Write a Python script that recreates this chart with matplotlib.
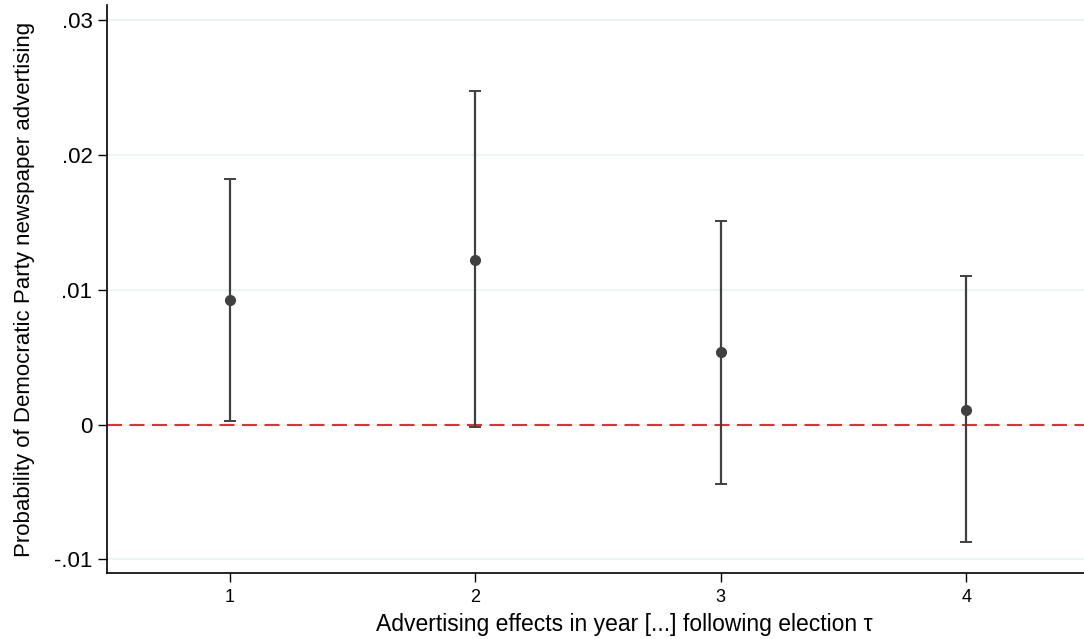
import matplotlib
matplotlib.use('Agg')
import matplotlib.pyplot as plt
import numpy as np

plt.rcParams['font.family'] = ['Liberation Sans', 'DejaVu Sans']

years = [1, 2, 3, 4]
coef = [0.0092, 0.0122, 0.0054, 0.0011]
ci_low = [0.0003, -0.0002, -0.0044, -0.0087]
ci_high = [0.0182, 0.0247, 0.0151, 0.0110]
yticks = [-0.01, 0, 0.01, 0.02, 0.03]
ytick_labels = ['-.01', '0', '.01', '.02', '.03']

coef = np.array(coef)
err = [coef - np.array(ci_low), np.array(ci_high) - coef]

fig = plt.figure(figsize=(10.84, 6.39), dpi=100)
ax = fig.add_axes([0.0987, 0.1033, 0.9013, 0.889])

ax.errorbar(years, coef, yerr=err, fmt='o', color='#404040', ms=7,
            elinewidth=1.6, capsize=4, capthick=1.4, zorder=3)
ax.axhline(0, color='#ff0000', lw=1.2, ls=(0, (9, 4.5)), zorder=2)

ax.set_xlim(0.5, 4.48)
ax.set_ylim(-0.011, 0.0311)
ax.set_xticks(years)
ax.set_yticks(yticks)
ax.set_yticklabels(ytick_labels)
ax.grid(axis='y', color='#eaf2f3', lw=1.2, zorder=0)
ax.set_axisbelow(True)
ax.spines['top'].set_visible(False)
ax.spines['right'].set_visible(False)
ax.spines['left'].set_linewidth(1.2)
ax.spines['bottom'].set_linewidth(1.2)
ax.tick_params(axis='y', labelsize=16, length=6.5, width=1, pad=4)
ax.tick_params(axis='x', labelsize=13, length=6.5, width=1, pad=5)

ax.set_xlabel('Advertising effects in year [...] following election τ', fontsize=16.5)
ax.xaxis.set_label_coords(0.529, -0.07, transform=ax.transAxes)
ax.xaxis.label.set_va('top')
ax.set_ylabel('Probability of Democratic Party newspaper advertising', fontsize=16, labelpad=14)

fig.savefig('out.png', dpi=100)
